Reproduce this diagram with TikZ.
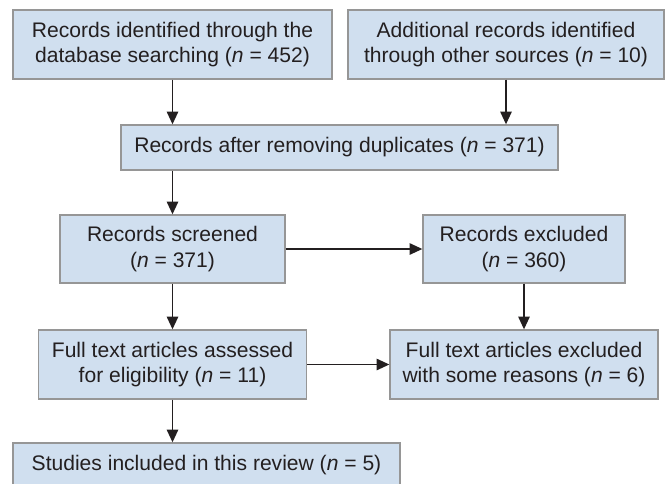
\documentclass[tikz,border=0pt]{standalone}
\usepackage{fontspec}
\setmainfont{Liberation Sans}
\usetikzlibrary{arrows.meta}
\definecolor{boxfill}{RGB}{208,223,239}
\definecolor{boxline}{RGB}{150,150,150}
\definecolor{ink}{RGB}{35,31,32}

\begin{document}
\begin{tikzpicture}[x=0.75pt,y=-0.75pt,
    box/.style 2 args={draw=boxline,fill=boxfill,line width=1pt,align=center,inner sep=0pt,
        text=ink,font=\fontsize{15.8}{19}\selectfont,
        minimum width=#1*0.75pt,minimum height=#2*0.75pt},
    arrow/.style={draw=ink,line width=1.2pt,-{Triangle[width=8.5pt,length=9.5pt]}}]
    \clip (0,0) rectangle (667,483);

    \node[box={319}{69}] (database) at (172.5,44.5)
        {Records identified through the\\database searching (\textit{n} = 452)};
    \node[box={316}{69}] (othersrc) at (506,44.5)
        {Additional records identified\\through other sources (\textit{n} = 10)};
    \node[box={437}{45}] (dedup) at (339.5,147.5)
        {Records after removing duplicates (\textit{n} = 371)};
    \node[box={225}{68}] (screened) at (172.5,249)
        {Records screened\\(\textit{n} = 371)};
    \node[box={202}{68}] (excluded) at (524,249)
        {Records excluded\\(\textit{n} = 360)};
    \node[box={268}{69}] (fulltext) at (172.5,364.5)
        {Full text articles assessed\\for eligibility (\textit{n} = 11)};
    \node[box={268}{69}] (ftexcluded) at (524,364.5)
        {Full text articles excluded\\with some reasons (\textit{n} = 6)};
    \node[box={387}{45}] (included) at (206.5,465.5)
        {Studies included in this review (\textit{n} = 5)};

    % connectors
    \draw[arrow] (database.south) -- (database.south |- dedup.north);
    \draw[arrow] (othersrc.south) -- (othersrc.south |- dedup.north);
    \draw[arrow] (dedup.south -| screened.north) -- (screened.north);
    \draw[arrow] (screened) -- (excluded);
    \draw[arrow] (screened) -- (fulltext);
    \draw[arrow] (excluded) -- (ftexcluded);
    \draw[arrow] (fulltext) -- (ftexcluded);
    \draw[arrow] (fulltext.south) -- (fulltext.south |- included.north);
\end{tikzpicture}
\end{document}
